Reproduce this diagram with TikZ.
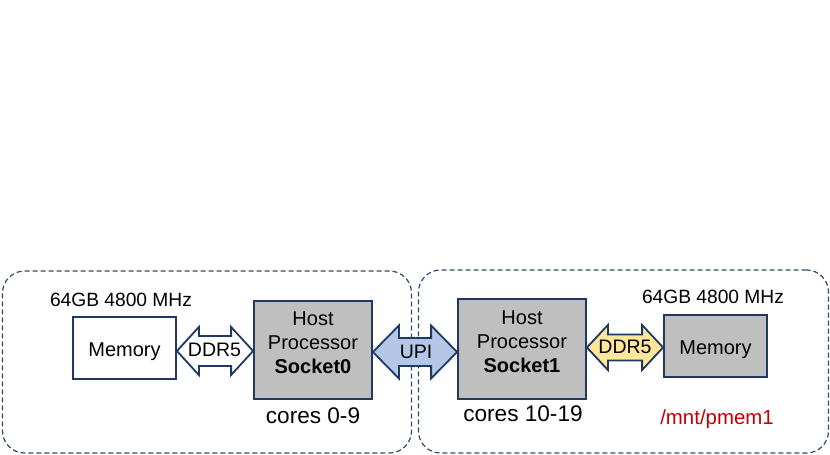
\documentclass[tikz,border=0pt]{standalone}
\usepackage{fontspec}
\setmainfont{Liberation Sans}
\usetikzlibrary{calc}
\definecolor{navy}{HTML}{1F3864}
\definecolor{dashnavy}{HTML}{2E4A6E}
\definecolor{boxgray}{HTML}{BFBFBF}
\definecolor{upiblue}{HTML}{B4C7E7}
\definecolor{ddryellow}{HTML}{FFE699}
\definecolor{pmemred}{HTML}{C00000}
\newcommand\dblarrow[7]{%
  \path[#7] let \p1=(#1), \p2=(#2), \p3=(0,#3) in
  (\x1,\y3) -- (\x1+#6,\y3+#4) -- (\x1+#6,\y3+#5) -- (\x2-#6,\y3+#5) --
  (\x2-#6,\y3+#4) -- (\x2,\y3) -- (\x2-#6,\y3-#4) -- (\x2-#6,\y3-#5) --
  (\x1+#6,\y3-#5) -- (\x1+#6,\y3-#4) -- cycle;}
\tikzset{
  group/.style={draw=dashnavy, line width=1.2pt, dash pattern=on 5pt off 3pt,
    rounded corners=22pt, inner sep=0pt},
  membox/.style={draw=navy, line width=1.8pt, minimum width=103pt, minimum height=62pt,
    inner sep=0pt, text height=20pt, text depth=4pt, font=\fontsize{20}{24}\selectfont},
  sockbox/.style={draw=navy, line width=1.8pt, fill=boxgray, inner sep=0pt,
    align=center, text depth=14pt, font=\fontsize{20}{24}\selectfont},
  arrowshape/.style={draw=navy, line width=1.8pt, line join=miter},
  lbl/.style={inner sep=0pt, font=\fontsize{19.5}{23}\selectfont},
  captxt/.style={inner sep=0pt, font=\fontsize{19.2}{22}\selectfont},
  corestxt/.style={inner sep=0pt, font=\fontsize{22.6}{26}\selectfont},
}
\begin{document}
\begin{tikzpicture}[x=1pt,y=-1pt]
\useasboundingbox (0,0) rectangle (830,455);
% groups
\node[group, minimum width=409pt, minimum height=182pt] (g0) at (207,362) {};
\node[group, minimum width=410pt, minimum height=183pt] (g1) at (623.5,361.5) {};
% boxes
\node[membox, fill=white] (mem0) at (124.5,348) {Memory};
\node[sockbox, minimum width=118pt, minimum height=98pt] (s0) at (313,350)
  {Host\\Processor\\\textbf{Socket0}};
\node[sockbox, minimum width=128pt, minimum height=100pt] (s1) at (522,349)
  {Host\\Processor\\\textbf{Socket1}};
\node[membox, fill=boxgray] (mem1) at (715.5,346) {Memory};
% captions
\node[captxt] (cap0) at (121,300) {64GB 4800 MHz};
\node[captxt] (cap1) at (713,297) {64GB 4800 MHz};
\node[corestxt] (c0) at (313,416) {cores 0-9};
\node[corestxt] (c1) at (523,414) {cores 10-19};
\node[inner sep=0pt, text=pmemred, font=\fontsize{20.4}{24}\selectfont] (pm) at (717,419) {/mnt/pmem1};
% connectors
\dblarrow{mem0.east}{s0.west}{351}{24pt}{15pt}{22pt}{arrowshape, fill=white}
\dblarrow{s0.east}{s1.west}{352}{26.5pt}{14pt}{26pt}{arrowshape, fill=upiblue}
\dblarrow{s1.east}{mem1.west}{347.5}{22.5pt}{13pt}{21pt}{arrowshape, fill=ddryellow}
\node[lbl] (l0) at (214.5,350) {DDR5};
\node[lbl] (lu) at (416,352) {UPI};
\node[lbl] (l1) at (625,347) {DDR5};
\end{tikzpicture}
\end{document}
